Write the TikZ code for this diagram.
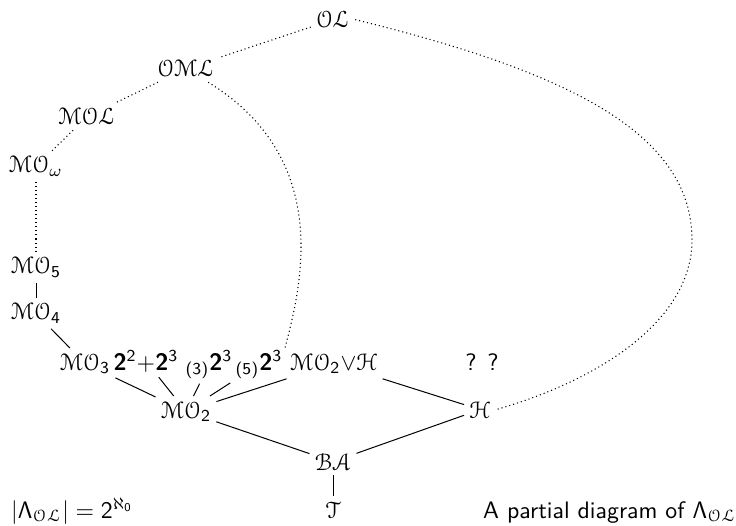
\documentclass[tikz,border=0pt]{standalone}
\usepackage{amsmath}
\usepackage{eucal}
\DeclareMathAlphabet{\mathbsf}{OT1}{cmss}{bx}{n}
\renewcommand{\familydefault}{\sfdefault}
\begin{document}
\begin{tikzpicture}[x=0.42pt, y=-0.42pt,
  lbl/.style={inner sep=2pt, anchor=base},
  solidedge/.style={line width=0.42pt},
  dotedge/.style={line width=0.45pt, dash pattern=on 0.45pt off 1.25pt}]
  \useasboundingbox (0,0) rectangle (736,526);

  % lattice elements
  \node[lbl] (OL)  at (333,28)  {$\mathcal{OL}$};
  \node[lbl] (OML) at (186,77)  {$\mathcal{OML}$};
  \node[lbl] (MOL) at (87,125)  {$\mathcal{MOL}$};
  \node[lbl] (MOw) at (36,173)  {$\mathcal{MO}_\omega$};
  \node[lbl] (MO5) at (36,274)  {$\mathcal{MO}_{\mathsf{5}}$};
  \node[lbl] (MO4) at (36,320)  {$\mathcal{MO}_{\mathsf{4}}$};
  \node[lbl] (MO3) at (85,370)  {$\mathcal{MO}_{\mathsf{3}}$};
  \node[lbl] (Bp)  at (146,370) {$\mathbsf{2}^{\mathsf{2}}{+}\mathbsf{2}^{\mathsf{3}}$};
  \node[lbl] (B3)  at (209,370) {${}_{\textsf{(3)}}\mathbsf{2}^{\mathsf{3}}$};
  \node[lbl] (B5)  at (259,370) {${}_{\textsf{(5)}}\mathbsf{2}^{\mathsf{3}}$};
  \node[lbl] (MOH) at (334,370) {$\mathcal{MO}_{\mathsf{2}}{\vee}\mathcal{H}$};
  \node[lbl] (Q)   at (482,370) {? ?};
  \node[lbl] (MO2) at (186,418) {$\mathcal{MO}_{\mathsf{2}}$};
  \node[lbl] (H)   at (480,418) {$\mathcal{H}$};
  \node[lbl] (BA)  at (333,470) {$\mathcal{BA}$};
  \node[lbl] (T)   at (333,518) {$\mathcal{T}$};

  % side texts
  \node[lbl, anchor=base west] (card) at (6,518)
    {$|\mathsf{\Lambda}_{\mathcal{OL}}| = \mathsf{2}^{\aleph_{\mathsf{0}}}$};
  \node[lbl, anchor=base west] (cap) at (478,518)
    {A partial diagram of $\mathsf{\Lambda}_{\mathcal{OL}}$};

  % covering relations
  \draw[solidedge] (MO5) -- (MO4);
  \draw[solidedge] (MO4) -- (MO3);
  \draw[solidedge] (MO3) -- (MO2);
  \draw[solidedge] (Bp)  -- (MO2);
  \draw[solidedge] (B3)  -- (MO2);
  \draw[solidedge] (B5)  -- (MO2);
  \draw[solidedge] (MOH) -- (MO2);
  \draw[solidedge] (MOH) -- (H);
  \draw[solidedge] (MO2) -- (BA);
  \draw[solidedge] (H)   -- (BA);
  \draw[solidedge] (BA)  -- (T);

  % infinite chains
  \draw[dotedge] (OL)  -- (OML);
  \draw[dotedge] (OML) -- (MOL);
  \draw[dotedge] (MOL) -- (MOw);
  \draw[dotedge] (MOw) -- (MO5);
  \draw[dotedge] (OML) .. controls (335,160) and (300,290) .. (MOH.north west);
  \coordinate (bulge) at (692,240);
  \draw[dotedge] (OL.east) .. controls (560,70) and (692,130) .. (bulge)
                           .. controls (692,320) and (600,380) .. (H.east);
\end{tikzpicture}
\end{document}
